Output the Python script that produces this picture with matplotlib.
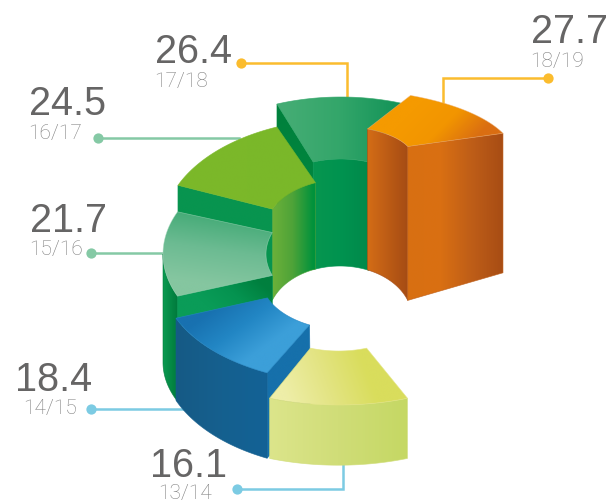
import matplotlib
matplotlib.use("Agg")
import matplotlib.pyplot as plt
import numpy as np
from matplotlib.colors import LinearSegmentedColormap
from matplotlib.patches import Polygon

# Score and season for each segment, smallest first
values = [16.1, 18.4, 21.7, 24.5, 26.4, 27.7]
seasons = ["13/14", "14/15", "15/16", "16/17", "17/18", "18/19"]

plt.rcParams["font.family"] = ["Liberation Sans", "DejaVu Sans"]
W, H = 616, 503
fig = plt.figure(figsize=(W / 100, H / 100), dpi=100)
ax = fig.add_axes([0, 0, 1, 1])
ax.set_xlim(0, W)
ax.set_ylim(H, 0)
ax.axis("off")

# the hole floor is shared by all the back segments
HOLE = (340, 318, 72, 52)


def depth(v):
    # segment height grows with its value
    return 8.6 * (v - 9.1)


def arc(cx, cy, a, b, t0, t1, n=40):
    t = np.radians(np.linspace(t0, t1, n))
    return np.column_stack([cx + a * np.cos(t), cy - b * np.sin(t)])


def hole_floor(pts):
    cx, cy, a, b = HOLE
    dx = np.clip((pts[:, 0] - cx) / a, -1, 1)
    return np.column_stack([pts[:, 0], cy - b * np.sqrt(1 - dx ** 2)])


def shade(pts, colors, p0, p1, z, edge=None):
    pts = np.asarray(pts)
    x0, y0 = np.floor(pts.min(axis=0)) - 1
    x1, y1 = np.ceil(pts.max(axis=0)) + 1
    xx, yy = np.meshgrid(np.arange(x0, x1 + 1, 0.5), np.arange(y0, y1 + 1, 0.5))
    d = np.array(p1, float) - np.array(p0, float)
    g = ((xx - p0[0]) * d[0] + (yy - p0[1]) * d[1]) / (d @ d)
    cmap = LinearSegmentedColormap.from_list("c", colors)
    im = ax.imshow(np.clip(g, 0, 1), cmap=cmap, vmin=0, vmax=1, extent=(x0, x1, y1, y0),
                   zorder=z, aspect="auto", interpolation="bilinear")
    patch = Polygon(pts, closed=True, transform=ax.transData, fc="none", ec="none")
    ax.add_patch(patch)
    im.set_clip_path(patch)
    # soften the clipped outline
    ax.add_patch(Polygon(pts, closed=True, fc="none", ec=edge or colors[len(colors) // 2],
                         lw=0.5, zorder=z, alpha=0.8 if edge is None else 0.6))


def top_face(s, t0, t1):
    cx, cy, ai, bi, ao, bo = s
    return np.vstack([arc(cx, cy, ao, bo, t0, t1), arc(cx, cy, ai, bi, t1, t0)])


ax.set_xlim(0, W)
ax.set_ylim(H, 0)

# leader lines and dots
leaders = [
    ("#7ccbe3", [(237, 489), (343, 489), (343, 462)]),
    ("#7ccbe3", [(91, 408.5), (186, 408.5)]),
    ("#85c9a5", [(91, 252.5), (166, 252.5)]),
    ("#85c9a5", [(98, 137.5), (239, 137.5)]),
    ("#fbbc2e", [(241, 63), (347, 63), (347, 100)]),
    ("#fbbc2e", [(548, 78), (443, 78), (443, 106)]),
]
for col, pts in leaders:
    xs, ys = zip(*pts)
    ax.plot(xs, ys, color=col, lw=1.8, zorder=1, solid_joinstyle="miter")
    ax.plot(xs[0], ys[0], "o", color=col, ms=7.4, mew=0, zorder=1)

# 17/18 back segment
v = values[4]
s = (341, 207, 79, 48, 182, 110)
t0, t1 = 69.4, 110.6
inner = arc(s[0], s[1], s[2], s[3], t1, t0)
base_out = arc(s[0], s[1] + depth(v), s[4], s[5], t1, t1, 1)
cut = np.vstack([arc(s[0], s[1], s[4], s[5], t1, t1, 1), inner[:1], hole_floor(inner[:1]), base_out])
shade(cut, ["#007f3c", "#00883f"], (277, 100), (315, 200), 2)
shade(np.vstack([inner, hole_floor(inner)[::-1]]), ["#07964f", "#009350", "#00894a"], (313, 0), (369, 0), 2)
shade(top_face(s, t0, t1), ["#46ad75", "#33a66a", "#139358"], (280, 0), (400, 0), 3)

# 18/19 segment, the tallest
v = values[5]
s = (334, 158, 79, 32, 181, 69)
t0, t1 = 21, 65
inner = arc(s[0], s[1], s[2], s[3], t1, t0)
corner = arc(s[0], s[1], s[2], s[3], t0, t0, 1)
outer = arc(s[0], s[1], s[4], s[5], t0, t0, 1)
base_out = arc(s[0], s[1] + depth(v), s[4], 126, t0, t0, 1)
shade(np.vstack([inner, hole_floor(inner)[::-1]]), ["#d36c16", "#a64c14"], (368, 0), (408, 0), 4)
shade(np.vstack([corner, outer, base_out, hole_floor(corner)]),
      ["#d86f12", "#da7012", "#bf5e18", "#a84d14"], (408, 0), (503, 0), 4)
shade(top_face(s, t0, t1), ["#f59a00", "#f29500", "#da6e12"], (420, 105), (465, 150), 5, edge="#eeb27a")

# 16/17 segment
v = values[3]
s = (345, 229, 79, 50, 182, 110)
t0, t1 = 112, 156.6
inner = arc(s[0], s[1], s[2], s[3], t1, t0)
outer = arc(s[0], s[1], s[4], s[5], t1, t1, 1)
base_out = arc(s[0], s[1] + depth(v), s[4], s[5], t1, t1, 1)
shade(np.vstack([outer, inner[:1], hole_floor(inner[:1]), base_out]), ["#08954f", "#08944f"], (178, 0), (272, 0), 6)
shade(np.vstack([inner, hole_floor(inner)[::-1]]), ["#6db13a", "#4ea338", "#00923c"], (272, 0), (314, 0), 6)
shade(top_face(s, t0, t1), ["#7cb82a", "#7ab829"], (180, 0), (314, 0), 7)

# 15/16 segment
v = values[2]
s = (346, 254, 80, 55, 183, 108)
t0, t1 = 157, 203
outer = arc(s[0], s[1], s[4], s[5], t1, t1, 1)
inner_pt = arc(s[0], s[1], s[2], s[3], t1, t1, 1)
shade(np.vstack([arc(s[0], s[1], s[4], s[5], 180, t1),
                 arc(s[0], s[1] + depth(v), s[4], 100, t1, 180)]),
      ["#0a9a50", "#007a3c"], (163, 0), (178, 0), 8)
shade(np.vstack([outer, inner_pt, inner_pt + [0, 30], outer + [0, 30]]),
      ["#0a9c58", "#059350", "#007f3e"], (215, 312), (250, 272), 8)
shade(top_face(s, t0, t1), ["#43aa76", "#6cbb92", "#85c6a0"], (225, 215), (215, 285), 9, edge="#a6d8bc")

# 14/15 segment
v = values[1]
s = (346, 278, 85, 52, 184, 105)
t0, t1 = 202.5, 244.6
inner_pt = arc(s[0], s[1], s[2], s[3], t1, t1, 1)
outer = arc(s[0], s[1], s[4], s[5], t1, t1, 1)
base_out = arc(s[0], s[1] + depth(v), s[4], 111, t1, t1, 1)
shade(np.vstack([outer, inner_pt, inner_pt + [1, 86], base_out]), ["#1670ab", "#1670ab"], (260, 0), (310, 0), 10)
shade(np.vstack([arc(s[0], s[1], s[4], s[5], t0, t1), arc(s[0], s[1] + depth(v), s[4], 111, t1, t0)]),
      ["#165a85", "#15608f", "#136296"], (176, 0), (269, 0), 10)
shade(top_face(s, t0, t1), ["#1871b0", "#2286c4", "#3c9fd9"], (225, 300), (262, 350), 11)

# 13/14 segment, closest to the viewer
v = values[0]
s = (338.5, 312, 75, 39, 184, 93)
t0, t1 = 248, 292
shade(np.vstack([arc(s[0], s[1], s[4], s[5], t0, t1), arc(s[0], s[1] + depth(v), s[4], s[5], t1, t0)]),
      ["#dce58b", "#d0dd78", "#c5d864"], (269, 0), (407, 0), 12)
shade(top_face(s, t0, t1), ["#eeeea8", "#e3e483", "#d9dd5c"], (285, 395), (365, 365), 13)

# value and season labels
text_pos = [(150, 477, 158, 499.5), (14.5, 391, 23.5, 414), (30, 232, 29.5, 255),
            (29, 115, 28.5, 139), (155, 63, 154.5, 87), (531, 43, 530.5, 67)]
for val, season, (x0, y0, x1, y1) in zip(values, seasons, text_pos):
    ax.text(x0, y0, f"{val}", fontsize=28.5, color="#666565", ha="left", va="baseline", zorder=20)
    ax.text(x1, y1, season, fontsize=15, color="#7f7f7f", family=["Roboto", "Liberation Sans"],
            weight="light", ha="left", va="baseline", zorder=20)

fig.savefig("out.png", dpi=100)
